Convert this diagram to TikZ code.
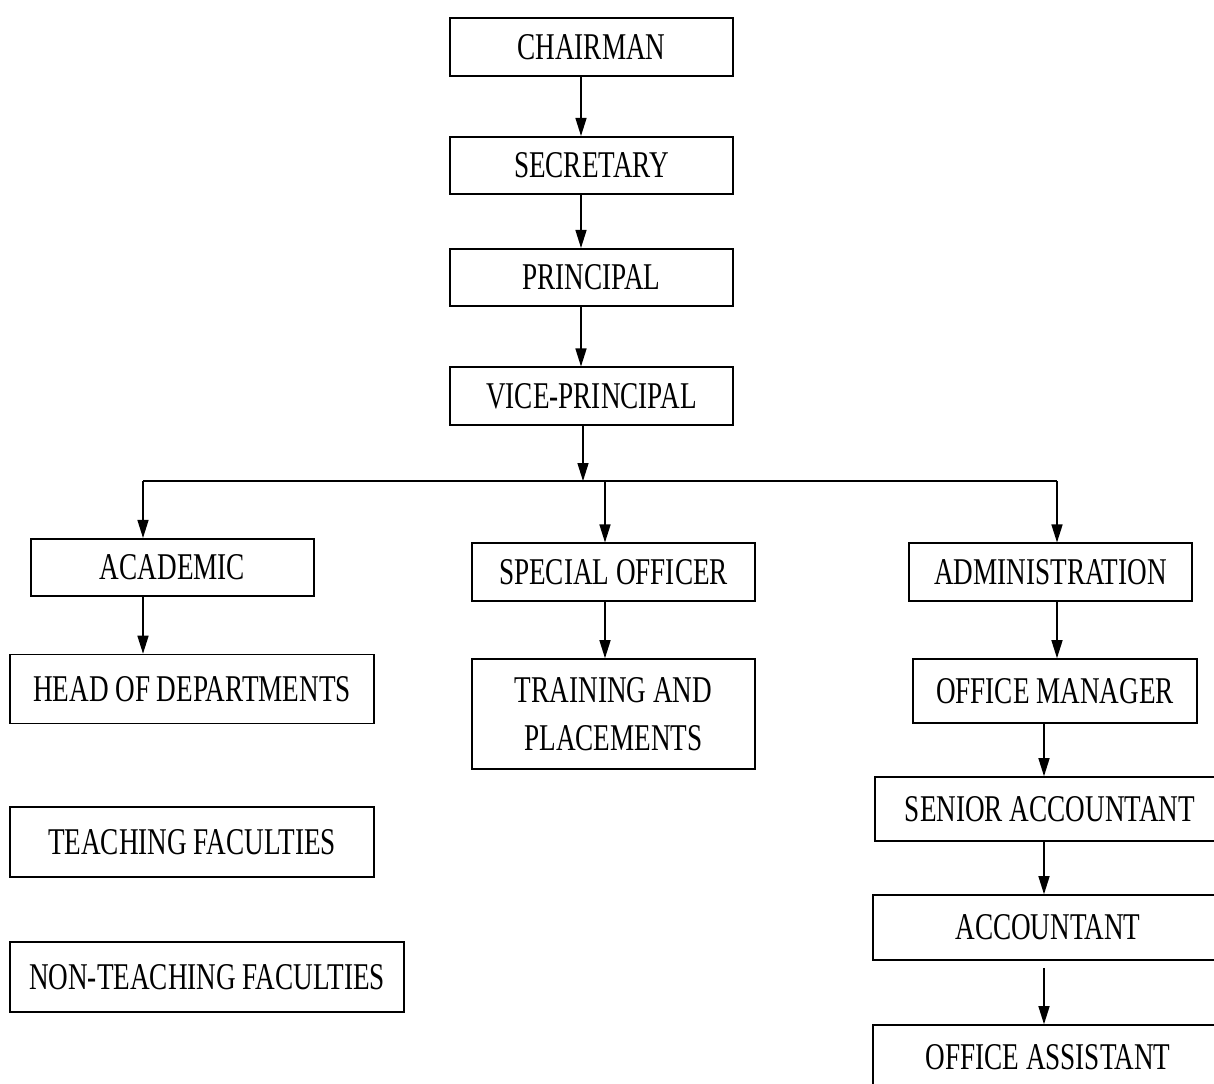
\documentclass[tikz,border=0pt]{standalone}
\usepackage{fontspec}
\setmainfont{Liberation Serif}[FakeStretch=0.72]
\usepackage{tikz}
\usetikzlibrary{arrows.meta}
\tikzset{
    org box/.style={draw, line width=0.9pt, inner sep=0pt, align=center,
        font=\fontsize{21.5}{27}\selectfont,
        minimum width=5.66cm, minimum height=1.15cm},
    wide box/.style={org box, minimum width=7.28cm, minimum height=1.38cm},
    down arrow/.style={line width=0.8pt, -{Triangle[length=0.36cm,width=0.22cm]}},
    bar line/.style={line width=1.3pt},
}

\begin{document}
\begin{tikzpicture}[x=0.02cm,y=-0.02cm]
\useasboundingbox (0,0) rectangle (1214,1083);
\clip (0,0) rectangle (1214,1083);

\node[org box] (chairman) at (591.5,47) {CHAIRMAN};
\node[org box] (secretary) at (591.5,165.5) {SECRETARY};
\node[org box] (principal) at (591.5,277.5) {PRINCIPAL};
\node[org box] (vp) at (591.5,396) {VICE-PRINCIPAL};

\node[org box] (academic) at (172.5,567.5) {ACADEMIC};
\node[org box] (special) at (613.5,572) {SPECIAL OFFICER};
\node[org box] (admin) at (1050.5,572) {ADMINISTRATION};

\node[wide box] (hod) at (192,689) {HEAD OF DEPARTMENTS};
\node[wide box, minimum height=1.4cm] (teaching) at (192,842) {TEACHING FACULTIES};
\node[wide box, minimum width=7.88cm, minimum height=1.4cm] (nonteaching) at (207,977) {NON-TEACHING FACULTIES};

\node[org box, minimum height=2.2cm] (training) at (613.5,714) {TRAINING AND\\PLACEMENTS};

\node[org box, minimum width=5.68cm, minimum height=1.28cm] (manager) at (1055,691) {OFFICE MANAGER};
\node[org box, minimum width=7cm, minimum height=1.28cm] (senior) at (1050,809) {SENIOR ACCOUNTANT};
\node[org box, minimum width=7cm, minimum height=1.3cm] (accountant) at (1048,927.5) {ACCOUNTANT};
\node[org box, minimum width=7cm, minimum height=1.3cm] (assistant) at (1048,1057.5) {OFFICE ASSISTANT};

\coordinate (top drop) at (581,0);
\coordinate (vp drop) at (583,0);
\coordinate (bar) at (0,481);
\coordinate (left drop) at (143,0);
\coordinate (mid drop) at (605,0);
\coordinate (right drop) at (1057,0);
\coordinate (acct drop) at (1044,0);

\draw[down arrow] (chairman.south -| top drop) -- (secretary.north -| top drop);
\draw[down arrow] (secretary.south -| top drop) -- (principal.north -| top drop);
\draw[down arrow] (principal.south -| top drop) -- (vp.north -| top drop);
\draw[down arrow] (vp.south -| vp drop) -- (bar -| vp drop);

\draw[bar line] (bar -| left drop) -- (bar -| right drop);
\foreach \drop/\kid in {left drop/academic, mid drop/special, right drop/admin}
    \draw[down arrow] (bar -| \drop) -- (\kid.north -| \drop);

\draw[down arrow] (academic.south -| left drop) -- (hod.north -| left drop);
\draw[down arrow] (special.south -| mid drop) -- (training.north -| mid drop);
\draw[down arrow] (admin.south -| right drop) -- (manager.north -| right drop);

\draw[down arrow] (manager.south -| acct drop) -- (senior.north -| acct drop);
\draw[down arrow] (senior.south -| acct drop) -- (accountant.north -| acct drop);
\draw[down arrow, shorten <=0.14cm] (accountant.south -| acct drop) -- (assistant.north -| acct drop);
\end{tikzpicture}
\end{document}
